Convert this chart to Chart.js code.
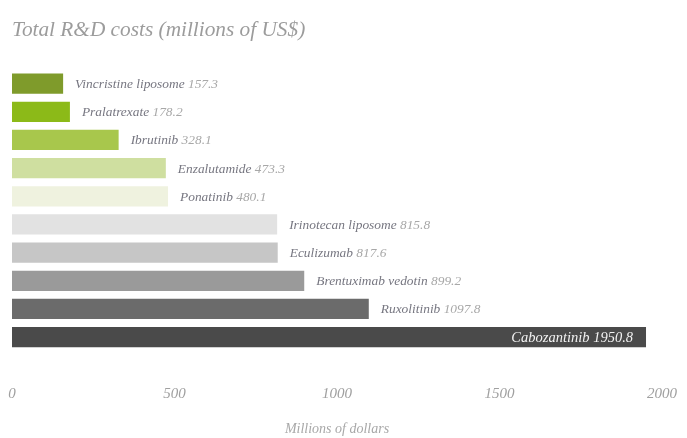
<!DOCTYPE html>
<html>
<head>
<meta charset="utf-8">
<script src="https://cdn.jsdelivr.net/npm/chart.js@4/dist/chart.umd.min.js"></script>
<style>
  html, body { margin: 0; padding: 0; background: #ffffff; }
  #wrap { width: 687px; height: 438px; }
</style>
</head>
<body>
<div id="wrap"><canvas id="c" width="687" height="438"></canvas></div>
<script>
// Drugs, top to bottom
const drugs = [
  'Vincristine liposome', 'Pralatrexate', 'Ibrutinib', 'Enzalutamide', 'Ponatinib',
  'Irinotecan liposome', 'Eculizumab', 'Brentuximab vedotin', 'Ruxolitinib', 'Cabozantinib'
];
// Total R&D cost per drug, millions of US$
const costs = [157.3, 178.2, 328.1, 473.3, 480.1, 815.8, 817.6, 899.2, 1097.8, 1950.8];
const barColors = [
  '#7f9b2b', '#8cba18', '#a8c74c', '#cfdfa0', '#eff2df',
  '#e2e2e2', '#c6c6c6', '#9a9a9a', '#6b6b6b', '#4a4a4a'
];
const xTicks = [0, 500, 1000, 1500, 2000];

const serif = '"Liberation Serif", "DejaVu Serif", serif';

// Writes "Name value" after each bar; the longest bar carries its label inside.
const barLabels = {
  id: 'barLabels',
  afterDatasetsDraw(chart) {
    const ctx = chart.ctx;
    const meta = chart.getDatasetMeta(0);
    const maxIdx = costs.indexOf(Math.max(...costs));
    ctx.save();
    ctx.textBaseline = 'middle';
    meta.data.forEach((bar, i) => {
      const name = drugs[i] + ' ';
      const val = costs[i].toFixed(1);
      if (i === maxIdx) {
        ctx.font = 'italic 14.5px ' + serif;
        const w = ctx.measureText(name + val).width;
        ctx.fillStyle = '#f2f2f2';
        ctx.fillText(name + val, bar.x - 13 - w, bar.y + 1);
      } else {
        ctx.font = 'italic 13.4px ' + serif;
        const wName = ctx.measureText(name).width;
        const x = bar.x + 12;
        ctx.fillStyle = '#767680';
        ctx.fillText(name, x, bar.y + 1);
        ctx.fillStyle = '#a8a8a8';
        ctx.fillText(val, x + wName, bar.y + 1);
      }
    });
    ctx.restore();
  }
};

new Chart(document.getElementById('c'), {
  type: 'bar',
  data: {
    labels: drugs,
    datasets: [{
      data: costs,
      backgroundColor: barColors,
      borderWidth: 0,
      barPercentage: 0.72,
      categoryPercentage: 1.0
    }]
  },
  options: {
    indexAxis: 'y',
    responsive: false,
    animation: false,
    layout: { padding: { left: 12, right: 25, top: 0, bottom: 0 } },
    plugins: {
      legend: { display: false },
      tooltip: { enabled: false },
      title: {
        display: true,
        text: 'Total R&D costs (millions of US$)',
        align: 'start',
        color: '#9c9c9c',
        font: { family: serif, size: 21.3, style: 'italic', weight: 'normal' },
        padding: { top: 18, bottom: 26 }
      }
    },
    scales: {
      x: {
        min: 0,
        max: 2000,
        grid: { display: false, drawTicks: true, tickLength: 30 },
        border: { display: false },
        afterBuildTicks(axis) { axis.ticks = xTicks.map(v => ({ value: v })); },
        ticks: {
          color: '#a0a0a0',
          padding: 4,
          maxRotation: 0,
          callback: v => String(v),
          font: { family: serif, size: 15, style: 'italic' }
        },
        title: {
          display: true,
          text: 'Millions of dollars',
          color: '#a8a8a8',
          font: { family: serif, size: 14, style: 'italic' },
          padding: { top: 14, bottom: 0 }
        }
      },
      y: {
        display: false
      }
    }
  },
  plugins: [barLabels]
});
</script>
</body>
</html>
